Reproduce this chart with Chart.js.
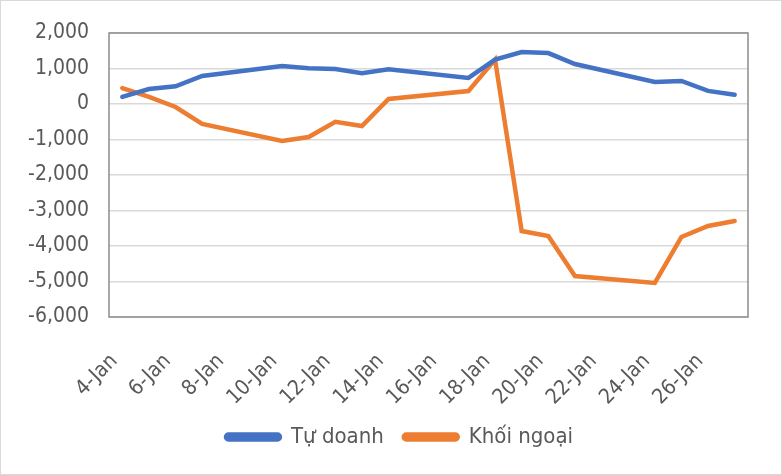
<!DOCTYPE html>
<html>
<head>
<meta charset="utf-8">
<script src="https://cdn.jsdelivr.net/npm/chart.js@4"></script>
<style>
  html, body { margin: 0; padding: 0; background: #fff; }
  #wrap { width: 782px; height: 475px; box-sizing: border-box; border: 1px solid #d9d9d9; }
</style>
</head>
<body>
<div id="wrap"><canvas id="chart"></canvas></div>
<script>
// daily date axis 4-Jan .. 27-Jan, weekends have no data
const days = ['4-Jan', '5-Jan', '6-Jan', '7-Jan', '8-Jan', '9-Jan', '10-Jan', '11-Jan', '12-Jan', '13-Jan',
    '14-Jan', '15-Jan', '16-Jan', '17-Jan', '18-Jan', '19-Jan', '20-Jan', '21-Jan', '22-Jan', '23-Jan',
    '24-Jan', '25-Jan', '26-Jan', '27-Jan'];
const tuDoanh = [200, 420, 500, 790, null, null, 1070, 1010, 985, 870,
    980, null, null, 735, 1250, 1465, 1435, 1125, null, null,
    620, 650, 370, 260];
const khoiNgoai = [450, 200, -85, -560, null, null, -1040, -930, -500, -620,
    140, null, null, 365, 1250, -3577, -3718, -4845, null, null,
    -5042, -3746, -3437, -3296];
const yTicks = [2000, 1000, 0, -1000, -2000, -3000, -4000, -5000, -6000];

const FONT = '"DejaVu Sans Condensed", "Liberation Sans", sans-serif';

// plot area border on all four sides
const frame = {
    id: 'frame',
    afterDraw(chart) {
        const a = chart.chartArea, c = chart.ctx;
        c.save();
        c.strokeStyle = '#8c8c8c';
        c.lineWidth = 1.5;
        c.strokeRect(a.left, a.top, a.right - a.left, a.bottom - a.top);
        c.restore();
    }
};

// nudge the legend a bit right, like the original
const legendShift = {
    id: 'legendShift',
    afterLayout(chart) {
        if (chart.legend) chart.legend.left = 50;
    }
};

new Chart(document.getElementById('chart'), {
    type: 'line',
    data: {
        labels: days,
        datasets: [{
            label: 'Tự doanh',
            data: tuDoanh,
            borderColor: '#4472C4',
            backgroundColor: '#4472C4',
            borderWidth: 4.5,
            pointRadius: 0,
            spanGaps: true,
            borderCapStyle: 'round'
        }, {
            label: 'Khối ngoại',
            data: khoiNgoai,
            borderColor: '#ED7D31',
            backgroundColor: '#ED7D31',
            borderWidth: 4.5,
            pointRadius: 0,
            spanGaps: true,
            borderCapStyle: 'round'
        }]
    },
    options: {
        responsive: true,
        maintainAspectRatio: false,
        animation: false,
        layout: { padding: { top: 32, right: 33, left: 0, bottom: 16 } },
        scales: {
            x: {
                offset: true,
                afterFit: s => { s.height = 89; s.paddingLeft = 0; s.paddingRight = 0; },
                grid: { display: false },
                border: { display: false },
                ticks: {
                    color: '#595959',
                    font: { family: FONT, size: 21 },
                    autoSkip: false,
                    maxRotation: 45,
                    minRotation: 45,
                    padding: 24,
                    labelOffset: -8,
                    callback: (v, i) => (i % 2 === 0 ? days[i] : '')
                }
            },
            y: {
                min: -6000,
                max: 2000,
                afterBuildTicks: s => { s.ticks = yTicks.map(v => ({ value: v })); },
                afterFit: s => { s.width = 108; s.paddingTop = 0; s.paddingBottom = 0; },
                grid: { color: '#d9d9d9', lineWidth: 1.5, drawTicks: false },
                border: { display: false },
                ticks: {
                    color: '#595959',
                    font: { family: FONT, size: 21 },
                    padding: 20,
                    callback: v => v.toLocaleString('en-US')
                }
            }
        },
        plugins: {
            legend: {
                position: 'bottom',
                labels: {
                    color: '#595959',
                    font: { family: FONT, size: 22 },
                    boxWidth: 54,
                    boxHeight: 5,
                    useBorderRadius: true,
                    borderRadius: 2.5,
                    padding: 20
                }
            },
            tooltip: { enabled: false }
        }
    },
    plugins: [frame, legendShift]
});
</script>
</body>
</html>
